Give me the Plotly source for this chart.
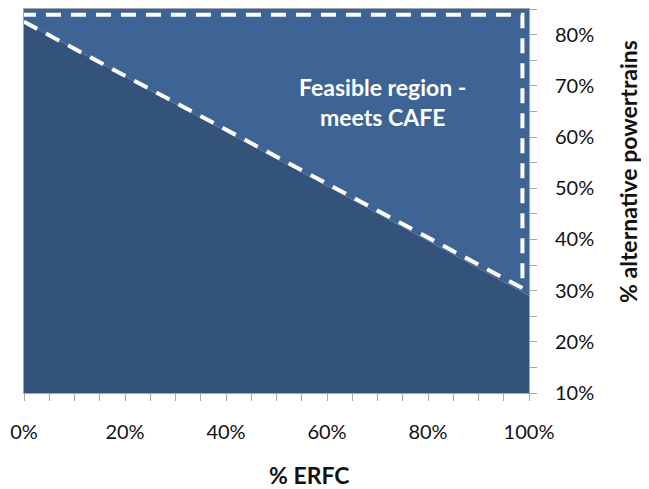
import plotly.graph_objects as go

# Data (percent)
erfc = [0, 100]
boundary = [82.5, 29]          # minimum % alternative powertrains needed
region_top = 85
dash_x = [0, 98.7, 98.7, 0]
dash_y = [82.5, 30.5, 83.9, 83.9]
x_ticks = [0, 20, 40, 60, 80, 100]
y_ticks = [10, 20, 30, 40, 50, 60, 70, 80]

dark = "#34537b"
light = "#3e6495"
font_family = "Lato, 'Open Sans', sans-serif"

fig = go.Figure()
# feasible (lighter) region
fig.add_trace(go.Scatter(
    x=erfc + erfc[::-1], y=boundary + [region_top, region_top],
    fill="toself", fillcolor=light, line=dict(width=0), mode="lines",
    hoverinfo="skip", showlegend=False))
# infeasible (darker) region
fig.add_trace(go.Scatter(
    x=erfc, y=boundary, fill="tozeroy", fillcolor=dark,
    line=dict(width=0), mode="lines", hoverinfo="skip", showlegend=False))
# dashed outline of the feasible region
fig.add_trace(go.Scatter(
    x=dash_x, y=dash_y, mode="lines",
    line=dict(color="white", width=4, dash="15px,10px"),
    hoverinfo="skip", showlegend=False))

fig.add_annotation(x=71, y=66.8, text="<b>Feasible region -<br>meets CAFE</b>",
                   showarrow=False, font=dict(color="white", size=23, family=font_family),
                   align="center")
# axis titles (placed as in the reference, off-centre)
fig.add_annotation(xref="paper", yref="paper", x=0.565, y=-0.213,
                   text="<b>% ERFC</b>", showarrow=False,
                   font=dict(size=23, family=font_family, color="#111111"),
                   xanchor="center", yanchor="middle")
fig.add_annotation(xref="paper", yref="paper", x=1.197, y=0.577,
                   text="<b>% alternative powertrains</b>", showarrow=False,
                   textangle=-90,
                   font=dict(size=23, family=font_family, color="#111111"),
                   xanchor="center", yanchor="middle")

fig.update_layout(
    width=641, height=481,
    margin=dict(l=16, r=120, t=1, b=96),
    paper_bgcolor="white", plot_bgcolor="white",
    font=dict(family=font_family, size=20, color="#111111"),
    xaxis=dict(range=[0, 100], tickvals=x_ticks,
               ticktext=[f"{v}%" for v in x_ticks],
               showgrid=False, zeroline=False, automargin=False,
               showline=True, linecolor="#a6a6a6", linewidth=1, mirror=True,
               ticks="outside", ticklen=7, tickcolor="#a6a6a6",
               minor=dict(dtick=5, ticks="outside", ticklen=7, tickcolor="#a6a6a6"),
               ticklabelstandoff=14),
    yaxis=dict(range=[10, 85], side="right", tickvals=y_ticks,
               ticktext=[f"{v}%" for v in y_ticks],
               showgrid=False, zeroline=False, automargin=False,
               showline=True, linecolor="#a6a6a6", linewidth=1, mirror=True,
               ticks="outside", ticklen=7, tickcolor="#a6a6a6",
               minor=dict(tick0=5, dtick=5, ticks="outside", ticklen=7, tickcolor="#a6a6a6"),
               ticklabelstandoff=14),
)

fig.write_html("out.html")
